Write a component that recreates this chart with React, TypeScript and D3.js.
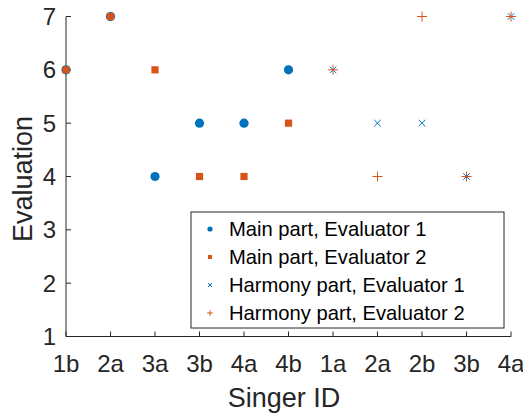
import React, { useEffect, useRef } from "react";
import * as d3 from "d3";

const singerIds = ["1b", "2a", "3a", "3b", "4a", "4b", "1a", "2a", "2b", "3b", "4a"];
const yTicks = [1, 2, 3, 4, 5, 6, 7];

// positions are 1-based indices into singerIds
const mainEval1X = [1, 2, 3, 4, 5, 6];
const mainEval1Y = [6, 7, 4, 5, 5, 6];
const mainEval2X = [1, 2, 3, 4, 5, 6];
const mainEval2Y = [6, 7, 6, 4, 4, 5];
const harmEval1X = [7, 8, 9, 10, 11];
const harmEval1Y = [6, 5, 5, 4, 7];
const harmEval2X = [7, 8, 9, 10, 11];
const harmEval2Y = [6, 4, 7, 4, 7];

const legendLabels = [
    "Main part, Evaluator 1",
    "Main part, Evaluator 2",
    "Harmony part, Evaluator 1",
    "Harmony part, Evaluator 2",
];

const BLUE = "#0072BD";
const ORANGE = "#D95319";
const AXIS = "#262626";
const FONT = "'Liberation Sans', Arial, Helvetica, sans-serif";

const zip = (xs: number[], ys: number[]) => xs.map((x, i) => [x, ys[i]]);

const App = () => {
    const svgRef = useRef(null);

    useEffect(() => {
        const width = 523;
        const height = 414;
        const svg = d3.select(svgRef.current).attr("width", width).attr("height", height);
        svg.selectAll("*").remove();

        const x = d3.scaleLinear().domain([1, singerIds.length]).range([66, 511]);
        const y = d3.scaleLinear().domain([1, 7]).range([336.5, 16.5]);

        const g = svg.append("g").attr("font-family", FONT);

        // axes lines
        g.append("line")
            .attr("x1", x(1)).attr("x2", x(1))
            .attr("y1", y(7)).attr("y2", y(1))
            .attr("stroke", AXIS).attr("stroke-width", 1);
        g.append("line")
            .attr("x1", x(1)).attr("x2", x(singerIds.length))
            .attr("y1", y(1)).attr("y2", y(1))
            .attr("stroke", AXIS).attr("stroke-width", 1);

        // y ticks
        g.selectAll(".ytick")
            .data(yTicks)
            .enter()
            .append("line")
            .attr("x1", x(1)).attr("x2", x(1) + 5)
            .attr("y1", (d) => y(d)).attr("y2", (d) => y(d))
            .attr("stroke", AXIS);
        g.selectAll(".ylab")
            .data(yTicks)
            .enter()
            .append("text")
            .attr("x", 56)
            .attr("y", (d) => y(d))
            .attr("dy", "0.36em")
            .attr("text-anchor", "end")
            .attr("font-size", 24)
            .attr("fill", AXIS)
            .text((d) => d);

        // x ticks
        const xIdx = singerIds.map((_d, i) => i + 1);
        g.selectAll(".xtick")
            .data(xIdx)
            .enter()
            .append("line")
            .attr("x1", (d) => x(d)).attr("x2", (d) => x(d))
            .attr("y1", y(1)).attr("y2", y(1) - 5)
            .attr("stroke", AXIS);
        g.selectAll(".xlab")
            .data(xIdx)
            .enter()
            .append("text")
            .attr("x", (d) => x(d))
            .attr("y", 372)
            .attr("text-anchor", "middle")
            .attr("font-size", 24)
            .attr("fill", AXIS)
            .text((d) => singerIds[d - 1]);

        // axis titles
        g.append("text")
            .attr("transform", "translate(32, 179) rotate(-90)")
            .attr("text-anchor", "middle")
            .attr("font-size", 27)
            .attr("fill", AXIS)
            .text("Evaluation");
        g.append("text")
            .attr("x", 284)
            .attr("y", 407)
            .attr("text-anchor", "middle")
            .attr("font-size", 27)
            .attr("fill", AXIS)
            .text("Singer ID");

        // markers
        g.selectAll(".m1")
            .data(zip(mainEval1X, mainEval1Y))
            .enter()
            .append("circle")
            .attr("cx", (d) => x(d[0]))
            .attr("cy", (d) => y(d[1]))
            .attr("r", 4.6)
            .attr("fill", BLUE);

        g.selectAll(".m2")
            .data(zip(mainEval2X, mainEval2Y))
            .enter()
            .append("rect")
            .attr("x", (d) => x(d[0]) - 3.6)
            .attr("y", (d) => y(d[1]) - 3.6)
            .attr("width", 7.2)
            .attr("height", 7.2)
            .attr("fill", ORANGE);

        const cross = (s: number) => `M${-s},${-s}L${s},${s}M${-s},${s}L${s},${-s}`;
        const plus = (s: number) => `M${-s},0L${s},0M0,${-s}L0,${s}`;

        g.selectAll(".h1")
            .data(zip(harmEval1X, harmEval1Y))
            .enter()
            .append("path")
            .attr("transform", (d) => `translate(${x(d[0])},${y(d[1])})`)
            .attr("d", cross(3.3))
            .attr("stroke", BLUE)
            .attr("stroke-width", 1)
            .attr("fill", "none");

        g.selectAll(".h2")
            .data(zip(harmEval2X, harmEval2Y))
            .enter()
            .append("path")
            .attr("transform", (d) => `translate(${x(d[0])},${y(d[1])})`)
            .attr("d", plus(5))
            .attr("stroke", ORANGE)
            .attr("stroke-width", 1)
            .attr("fill", "none");

        // legend
        const legend = g.append("g").attr("transform", "translate(191, 212)");
        legend.append("rect")
            .attr("width", 313)
            .attr("height", 116)
            .attr("fill", "#fff")
            .attr("stroke", AXIS)
            .attr("stroke-width", 1);

        const rows = legend.selectAll(".row")
            .data(legendLabels)
            .enter()
            .append("g")
            .attr("transform", (_d, i) => `translate(0, ${17 + i * 28})`);

        rows.append("text")
            .attr("x", 38)
            .attr("dy", "0.36em")
            .attr("font-size", 20.2)
            .attr("fill", "#000")
            .text((d) => d);

        rows.each(function (_d, i) {
            const row = d3.select(this);
            if (i === 0) {
                row.append("circle").attr("cx", 19).attr("r", 2.6).attr("fill", BLUE);
            } else if (i === 1) {
                row.append("rect").attr("x", 17).attr("y", -2).attr("width", 4).attr("height", 4).attr("fill", ORANGE);
            } else if (i === 2) {
                row.append("path").attr("transform", "translate(19,0)").attr("d", cross(2)).attr("stroke", BLUE).attr("fill", "none");
            } else {
                row.append("path").attr("transform", "translate(19,0)").attr("d", plus(2.8)).attr("stroke", ORANGE).attr("fill", "none");
            }
        });
    }, []);

    return (
        <div style={{ position: "absolute", left: 0, top: 0, width: 523, height: 414, background: "#fff" }}>
            <svg ref={svgRef} style={{ display: "block" }}></svg>
        </div>
    );
};

export default App;
